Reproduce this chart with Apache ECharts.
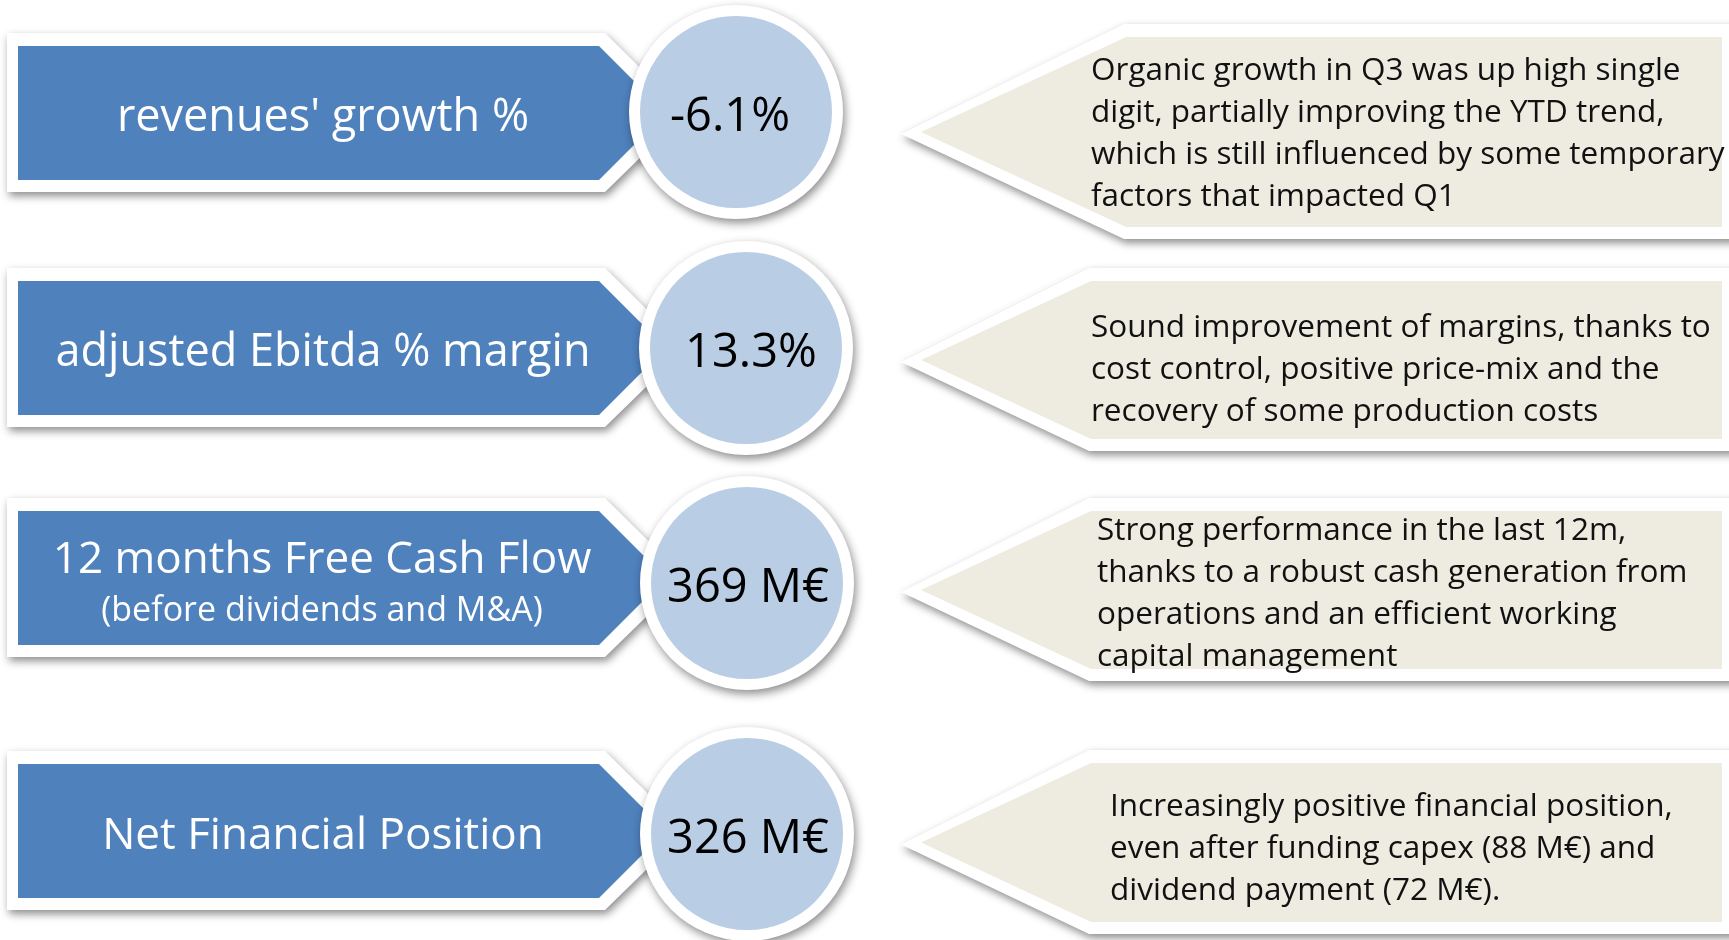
<!DOCTYPE html>
<html>
<head>
<meta charset="utf-8">
<script src="https://cdn.jsdelivr.net/npm/echarts@6/dist/echarts.min.js"></script>
<style>
  html, body { margin: 0; padding: 0; background: #fff; }
  #chart { width: 1729px; height: 940px; }
</style>
</head>
<body>
<div id="chart"></div>
<script>
// KPI names, values and comments
const labels = ["revenues' growth %", "adjusted Ebitda % margin", "12 months Free Cash Flow", "Net Financial Position"];
const subLabels = ["", "", "(before dividends and M&A)", ""];
const values = ["-6.1%", "13.3%", "369 M€", "326 M€"];
const comments = [
  ["Organic growth in Q3 was up high single", "digit, partially improving the YTD trend,", "which is still influenced by some temporary", "factors that impacted Q1"],
  ["Sound improvement of margins, thanks to", "cost control, positive price-mix and the", "recovery of some production costs"],
  ["Strong performance in the last 12m,", "thanks to a robust cash generation from", "operations and an efficient working", "capital management"],
  ["Increasingly positive financial position,", "even after funding capex (88 M€) and", "dividend payment (72 M€)."]
];

// layout of each row (pixels)
const boxTop = [46, 281, 511, 764];
const boxH = 134;
const circleC = [[736, 112], [746, 348], [747, 583], [747, 834]];
const valueDx = [-6, 5, 1, 1];
const noteTop = [37, 281, 511, 763];
const noteBottom = [227, 439, 669, 922];
const noteCorner = [1126, 1091, 1091, 1091];
const noteTextX = [1091, 1091, 1097, 1110];
const noteTextY = [134, 370, 594, 849];

const BLUE = "#4f81bd";
const LIGHT = "#b9cde5";
const BEIGE = "#eeece1";
const FONT = '"Open Sans", "Noto Sans", sans-serif';

const shadow = {
  shadowBlur: 8,
  shadowColor: "rgba(0,0,0,0.45)",
  shadowOffsetX: 2,
  shadowOffsetY: 4,
};

let elements = [];

labels.forEach(function (name, i) {
  let t = boxTop[i];
  let b = t + boxH;
  let m = (t + b) / 2;

  // white frame behind the blue arrow
  elements.push({
    type: "polygon",
    z: 1,
    shape: { points: [[7, t - 13], [605, t - 13], [686, m], [605, b + 12], [7, b + 12]] },
    style: Object.assign({ fill: "#fff" }, shadow),
  });
  // blue arrow
  elements.push({
    type: "polygon",
    z: 2,
    shape: { points: [[18, t], [599, t], [666, m], [599, b], [18, b]] },
    style: { fill: BLUE },
  });

  // circle with white ring
  let c = circleC[i];
  elements.push({
    type: "circle",
    z: 3,
    shape: { cx: c[0], cy: c[1], r: 107 },
    style: Object.assign({ fill: "#fff" }, shadow, { shadowBlur: 10 }),
  });
  elements.push({
    type: "circle",
    z: 4,
    shape: { cx: c[0], cy: c[1], r: 96 },
    style: { fill: LIGHT },
  });
  elements.push({
    type: "text",
    z: 5,
    style: {
      text: values[i],
      x: c[0] + valueDx[i],
      y: c[1] + 6,
      fill: "#000",
      fontSize: 47,
      fontFamily: FONT,
      align: "center",
      verticalAlign: "middle",
    },
  });

  // label inside the blue arrow
  if (subLabels[i]) {
    elements.push({
      type: "text",
      z: 5,
      style: { text: name, x: 322, y: m - 18, fill: "#fff", fontSize: 44, fontFamily: FONT, align: "center", verticalAlign: "middle" },
    });
    elements.push({
      type: "text",
      z: 5,
      style: { text: subLabels[i], x: 322, y: m + 33, fill: "#fff", fontSize: 34, fontFamily: FONT, align: "center", verticalAlign: "middle" },
    });
  } else {
    elements.push({
      type: "text",
      z: 5,
      style: { text: name, x: 323, y: m + 5, fill: "#fff", fontSize: i === 3 ? 44 : 45, fontFamily: FONT, align: "center", verticalAlign: "middle" },
    });
  }

  // comment callout
  let nt = noteTop[i];
  let nb = noteBottom[i];
  let nm = (nt + nb) / 2;
  let k = noteCorner[i];
  elements.push({
    type: "polygon",
    z: 1,
    shape: { points: [[k - 2, nt - 13], [1745, nt - 13], [1745, nb + 12], [k - 2, nb + 12], [901, nm + 2]] },
    style: Object.assign({ fill: "#fff" }, shadow),
  });
  elements.push({
    type: "polygon",
    z: 2,
    shape: { points: [[k, nt], [1722, nt], [1722, nb], [k, nb], [921, nm]] },
    style: { fill: BEIGE },
  });
  elements.push({
    type: "text",
    z: 5,
    style: {
      text: comments[i].join("\n"),
      x: noteTextX[i],
      y: noteTextY[i],
      fill: "#111",
      fontSize: 31.5,
      lineHeight: 42,
      fontFamily: FONT,
      align: "left",
      verticalAlign: "middle",
    },
  });
});

let myChart = echarts.init(document.getElementById("chart"));
myChart.setOption({
  backgroundColor: "#fff",
  animation: false,
  graphic: { elements: elements },
});
</script>
</body>
</html>
